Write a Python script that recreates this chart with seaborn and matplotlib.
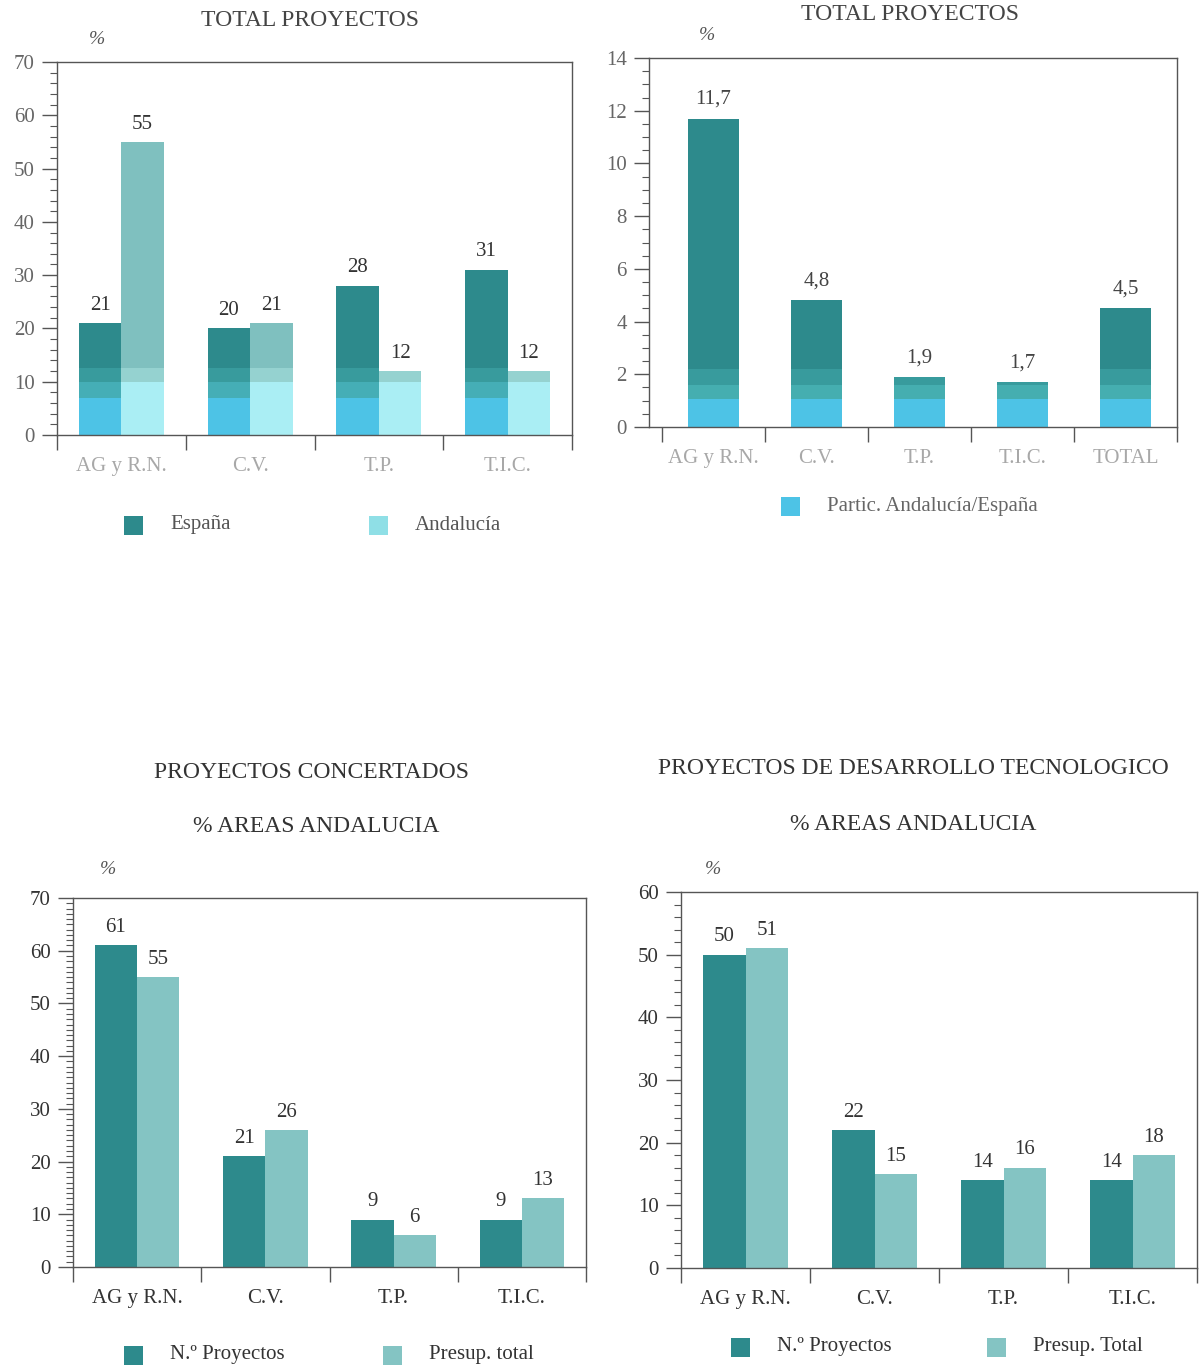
import numpy as np
import matplotlib
matplotlib.use('Agg')
import matplotlib.pyplot as plt
import matplotlib.patches as mpatches
from matplotlib.ticker import MultipleLocator, FixedLocator
import pandas as pd
import seaborn as sns

# datos
areas = ['AG y R.N.', 'C.V.', 'T.P.', 'T.I.C.']
areas_total = ['AG y R.N.', 'C.V.', 'T.P.', 'T.I.C.', 'TOTAL']

espana = [21, 20, 28, 31]
andalucia = [55, 21, 12, 12]

partic = [11.7, 4.8, 1.9, 1.7, 4.5]

conc_proyectos = [61, 21, 9, 9]
conc_presup = [55, 26, 6, 13]

dt_proyectos = [50, 22, 14, 14]
dt_presup = [51, 15, 16, 18]

sns.set_theme(style='white')
plt.rcParams['font.family'] = ['Liberation Serif', 'DejaVu Serif']

W, H = 1202, 1367
fig = plt.figure(figsize=(W / 100, H / 100), dpi=100)

OSCURO = '#2d8a8c'
CLARO = '#84c4c3'
AZUL = '#4dc3e6'
EJE = '#555555'
FS = 15


def caja(l, t, r, b):
    return [l / W, 1 - b / H, (r - l) / W, (b - t) / H]


def texto(x, y, s, size=17, color='#333333', **kw):
    fig.text(x / W, 1 - y / H, s, ha='center', va='center', fontsize=size, color=color, **kw)


def leyenda(x, y, s, color, col_txt='#333333', lado=19):
    fig.add_artist(mpatches.Rectangle(((x - lado / 2) / W, 1 - (y + lado / 2) / H), lado / W, lado / H,
                                      transform=fig.transFigure, facecolor=color, edgecolor='none'))
    fig.text((x + 37) / W, 1 - y / H, s, ha='left', va='center', fontsize=FS, color=col_txt)


def bandas(ax, bars, franjas):
    # franjas de color del impreso (parte baja de las barras)
    for p in bars:
        for lo, hi, c in franjas:
            s = ax.axhspan(lo, hi, color=c, lw=0, zorder=p.get_zorder() + 0.1)
            s.set_clip_path(p)


def ejes(ax, n, ymax, ymaj, ymin, tick_col, lab_col, xlim_left=None):
    ax.set_ylim(0, ymax)
    ax.set_xlim(-0.5 if xlim_left is None else xlim_left, n - 0.5)
    ax.yaxis.set_major_locator(MultipleLocator(ymaj))
    ax.yaxis.set_minor_locator(MultipleLocator(ymin))
    ax.tick_params(axis='y', which='major', direction='out', length=11, width=1,
                   color=EJE, labelsize=FS, labelcolor=tick_col, pad=5, left=True)
    ax.tick_params(axis='y', which='minor', direction='out', length=5, width=0.8,
                   color=EJE, left=True)
    ax.xaxis.set_minor_locator(FixedLocator(np.arange(n + 1) - 0.5))
    ax.tick_params(axis='x', which='major', length=0, labelsize=FS, labelcolor=lab_col, pad=16)
    ax.tick_params(axis='x', which='minor', direction='out', length=11, width=1,
                   color=EJE, bottom=True)
    ax.set_xlabel('')
    ax.set_ylabel('')
    for sp in ax.spines.values():
        sp.set_color(EJE)
        sp.set_linewidth(1)
        sp.set_visible(True)


def doble(ax, a, b, n1, n2, ymax, ymaj, ymin, tick_col, lab_col, col1, col2):
    df = pd.DataFrame({'area': areas * 2, 'valor': a + b,
                       'serie': [n1] * len(a) + [n2] * len(b)})
    sns.barplot(data=df, x='area', y='valor', hue='serie', palette=[col1, col2],
                width=0.66, gap=0, saturation=1, legend=False, ax=ax, errorbar=None,
                linewidth=0, edgecolor='none')
    for cont, vals in zip(ax.containers, [a, b]):
        ax.bar_label(cont, labels=[str(v) for v in vals], padding=6, fontsize=FS, color='#333333')
    ejes(ax, len(areas), ymax, ymaj, ymin, tick_col, lab_col)
    return ax


# 1: total proyectos, España / Andalucía
ax1 = fig.add_axes(caja(57, 62, 572, 435))
doble(ax1, espana, andalucia, 'España', 'Andalucía', 70, 10, 2, '#666666', '#a8a8a8',
      OSCURO, '#7fc0bf')
bandas(ax1, ax1.containers[0], [(0, 7, AZUL), (7, 10, '#45aeb6'), (10, 12.5, '#389b9d')])
bandas(ax1, ax1.containers[1], [(0, 10, '#aaeef4'), (10, 12.5, '#95d2d0')])
ax1.get_yticklabels()[0].set_color('#c0c0c0')
texto(310, 20, 'TOTAL PROYECTOS', color='#444444')
texto(97, 40, '%', size=14, color='#555555', style='italic')
leyenda(133, 525, 'España', OSCURO, '#555555')
leyenda(378, 525, 'Andalucía', '#8fdfe6', '#555555')

# 2: participación Andalucía / España
ax2 = fig.add_axes(caja(649, 58, 1177, 427))
sns.barplot(x=areas_total, y=partic, color=OSCURO, width=0.5, saturation=1, ax=ax2,
            errorbar=None, linewidth=0, edgecolor='none')
ax2.bar_label(ax2.containers[0], labels=[str(v).replace('.', ',') for v in partic],
              padding=7, fontsize=FS, color='#444444')
ejes(ax2, len(areas_total), 14, 2, 0.5, '#666666', '#a8a8a8', xlim_left=-0.626)
bandas(ax2, ax2.containers[0], [(0, 1.05, AZUL), (1.05, 1.6, '#45aeb0'), (1.6, 2.2, '#389b9d')])
ax2.get_yticklabels()[0].set_color('#c0c0c0')
texto(910, 15, 'TOTAL PROYECTOS', color='#444444')
texto(707, 35, '%', size=14, color='#555555', style='italic')
leyenda(790, 507, 'Partic. Andalucía/España', AZUL, '#666666')

# 3: proyectos concertados
ax3 = fig.add_axes(caja(73, 898, 586, 1267))
doble(ax3, conc_proyectos, conc_presup, 'N.º Proyectos', 'Presup. total', 70, 10, 1,
      '#333333', '#333333', OSCURO, CLARO)
texto(312, 772, 'PROYECTOS CONCERTADOS')
texto(316, 826, '% AREAS ANDALUCIA')
texto(108, 870, '%', size=14, color='#555555', style='italic')
leyenda(133, 1355, 'N.º Proyectos', OSCURO)
leyenda(392, 1355, 'Presup. total', CLARO)

# 4: proyectos de desarrollo tecnológico
ax4 = fig.add_axes(caja(681, 892, 1197, 1268))
doble(ax4, dt_proyectos, dt_presup, 'N.º Proyectos', 'Presup. Total', 60, 10, 2,
      '#333333', '#333333', OSCURO, CLARO)
texto(913, 768, 'PROYECTOS DE DESARROLLO TECNOLOGICO')
texto(913, 824, '% AREAS ANDALUCIA')
texto(713, 870, '%', size=14, color='#555555', style='italic')
leyenda(740, 1347, 'N.º Proyectos', OSCURO)
leyenda(996, 1347, 'Presup. Total', CLARO)

fig.savefig('out.png', dpi=100, facecolor='white')
